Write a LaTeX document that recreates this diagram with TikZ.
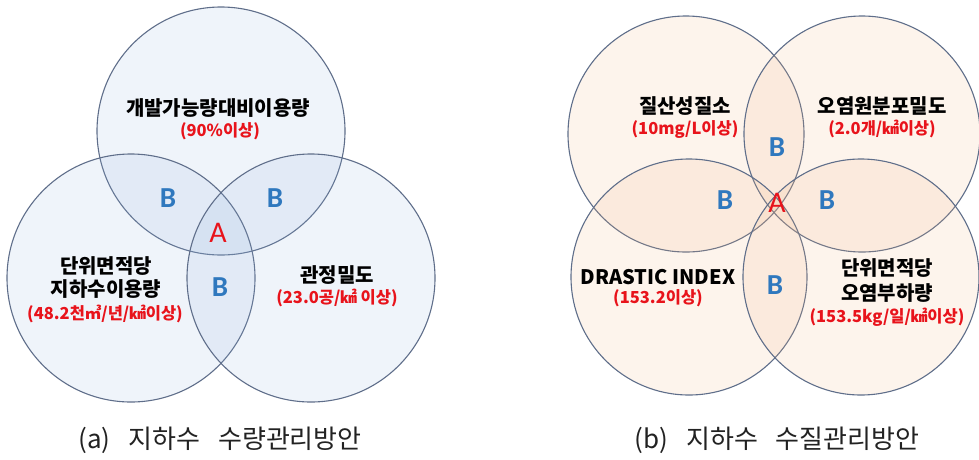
\documentclass[tikz,border=0pt]{standalone}
\usepackage{fontspec}
\setmainfont{Liberation Serif}
\newfontfamily\krfont{Noto Sans CJK KR}
\newfontfamily\abfont{Carlito}
\definecolor{ringcol}{HTML}{5F6E8A}
\definecolor{bluefill}{HTML}{8FB0DC}
\definecolor{peachfill}{HTML}{F0B482}
\definecolor{labred}{HTML}{E8131B}
\definecolor{labblue}{HTML}{2F78BE}
\definecolor{capcol}{HTML}{222222}
\begin{document}
\begin{tikzpicture}[x=1pt,y=-1pt,
  bluering/.style={circle, inner sep=0pt, minimum size=248pt, fill=bluefill, fill opacity=0.14, draw=ringcol, draw opacity=1, line width=1.1pt},
  peachring/.style={circle, inner sep=0pt, minimum size=236pt, fill=peachfill, fill opacity=0.15, draw=ringcol, draw opacity=1, line width=1.1pt},
  ttl/.style={font=\krfont\bfseries\fontsize{20}{22}\selectfont, text=black, inner sep=0pt},
  crit/.style={font=\krfont\bfseries\fontsize{16.5}{18}\selectfont, text=labred, inner sep=0pt},
  bmark/.style={font=\abfont\bfseries\fontsize{29}{32}\selectfont, text=labblue, inner sep=0pt},
  amark/.style={font=\abfont\fontsize{30}{32}\selectfont, text=labred, inner sep=0pt},
  capt/.style={font=\krfont\fontsize{26}{28}\selectfont, text=capcol, inner sep=0pt}]
\useasboundingbox (0,0) rectangle (979,459);
% ---------- (a) ----------
\node[bluering] (ctop) at (221,131) {};
\node[bluering] (cleft) at (131,278) {};
\node[bluering] (cright) at (311,278) {};
\node[ttl] (ta) at (218,108) {개발가능량대비이용량};
\node[crit] (ra) at (220,131) {(90\%이상)};
\node[bmark] (ba1) at (168,198) {B};
\node[bmark] (ba2) at (275,198) {B};
\node[amark] (aa) at (218,233) {A};
\node[bmark] (ba3) at (220,287) {B};
\node[ttl] (tb1) at (106,266) {단위면적당};
\node[ttl] (tb2) at (106,289) {지하수이용량};
\node[crit] (rb) at (105,314) {(48.2천㎥/년/㎢이상)};
\node[ttl] (tc) at (337,275) {관정밀도};
\node[crit] (rc) at (337,298) {(23.0공/㎢ 이상)};
\node[capt] (capa) at (220,440) {(a)\hspace{18pt}지하수\hspace{18pt}수량관리방안};
% ---------- (b) ----------
\begin{scope}
\clip (490,0) rectangle (979,459);
\node[peachring] (ctl) at (686,134) {};
\node[peachring] (ctr) at (862,134) {};
\node[peachring] (cbl) at (689,277) {};
\node[peachring] (cbr) at (861,277) {};
\end{scope}
\node[ttl] (tq1) at (685,106) {질산성질소};
\node[crit] (rq1) at (685,129) {(10mg/L이상)};
\node[ttl] (tq2) at (882,106) {오염원분포밀도};
\node[crit] (rq2) at (882,129) {(2.0개/㎢이상)};
\node[bmark] (bb1) at (777,147) {B};
\node[bmark] (bb2) at (725,200) {B};
\node[bmark] (bb3) at (827,200) {B};
\node[amark] (ab) at (777,203) {A};
\node[bmark] (bb4) at (775,285) {B};
\node[ttl] (tq3) at (658,277) {DRASTIC INDEX};
\node[crit] (rq3) at (658,298) {(153.2이상)};
\node[ttl] (tq4a) at (887,268) {단위면적당};
\node[ttl] (tq4b) at (887,293) {오염부하량};
\node[crit] (rq4) at (887,317) {(153.5kg/일/㎢이상)};
\node[capt] (capb) at (777,440) {(b)\hspace{18pt}지하수\hspace{18pt}수질관리방안};
\end{tikzpicture}
\end{document}
